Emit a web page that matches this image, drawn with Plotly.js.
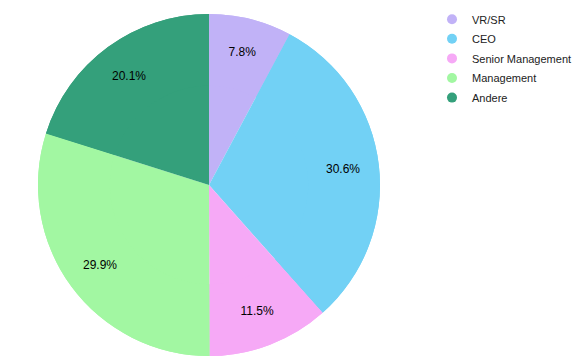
<!DOCTYPE html>
<html><head><meta charset="utf-8">
<script src="https://cdn.plot.ly/plotly-3.0.1.min.js"></script>
<style>body{margin:0;padding:0;}#chart{width:576px;height:362px;}</style>
</head><body><div id="chart"></div>
<script>
const categories = ["VR/SR", "CEO", "Senior Management", "Management", "Andere"];
const values = [7.8, 30.6, 11.5, 29.9, 20.1];
const colors = ["#c1b2f7", "#72d1f5", "#f6a9f6", "#a2f7a2", "#34a07b"];

const dom = {x: [38/576, 380/576], y: [6/362, 348/362]};
const base = {
  type: "pie", labels: categories, values: values, sort: false,
  direction: "clockwise", rotation: 0,
  marker: {colors: colors, line: {width: 0}},
  domain: dom, hoverinfo: "none", showlegend: false
};
const fullPie = Object.assign({}, base, {textinfo: "none"});
const textRing = Object.assign({}, base, {
  hole: 0.58,
  texttemplate: "%{value:.1f}%",
  textposition: "inside",
  insidetextorientation: "horizontal",
  textfont: {family: "Arial, Liberation Sans, sans-serif", size: 12, color: "#000"}
});
const legendTraces = categories.map((c, i) => ({
  type: "scatter", mode: "markers", x: [null], y: [null], name: c, legendgroup: c,
  marker: {symbol: "circle", size: 10, color: colors[i]}, hoverinfo: "none"
}));

const layout = {
  width: 576, height: 362,
  margin: {l: 0, r: 0, t: 0, b: 0, autoexpand: false},
  paper_bgcolor: "#fff", plot_bgcolor: "#fff",
  showlegend: true,
  xaxis: {visible: false}, yaxis: {visible: false},
  legend: {x: 432/576, y: 0.987, xanchor: "left", yanchor: "top", itemwidth: 30,
    tracegroupgap: 0.6,
    font: {family: "Arial, Liberation Sans, sans-serif", size: 11, color: "#222"}},
  font: {family: "Arial, Liberation Sans, sans-serif"}
};
Plotly.newPlot("chart", [fullPie, textRing].concat(legendTraces), layout, {staticPlot: true, displayModeBar: false});
</script></body></html>
